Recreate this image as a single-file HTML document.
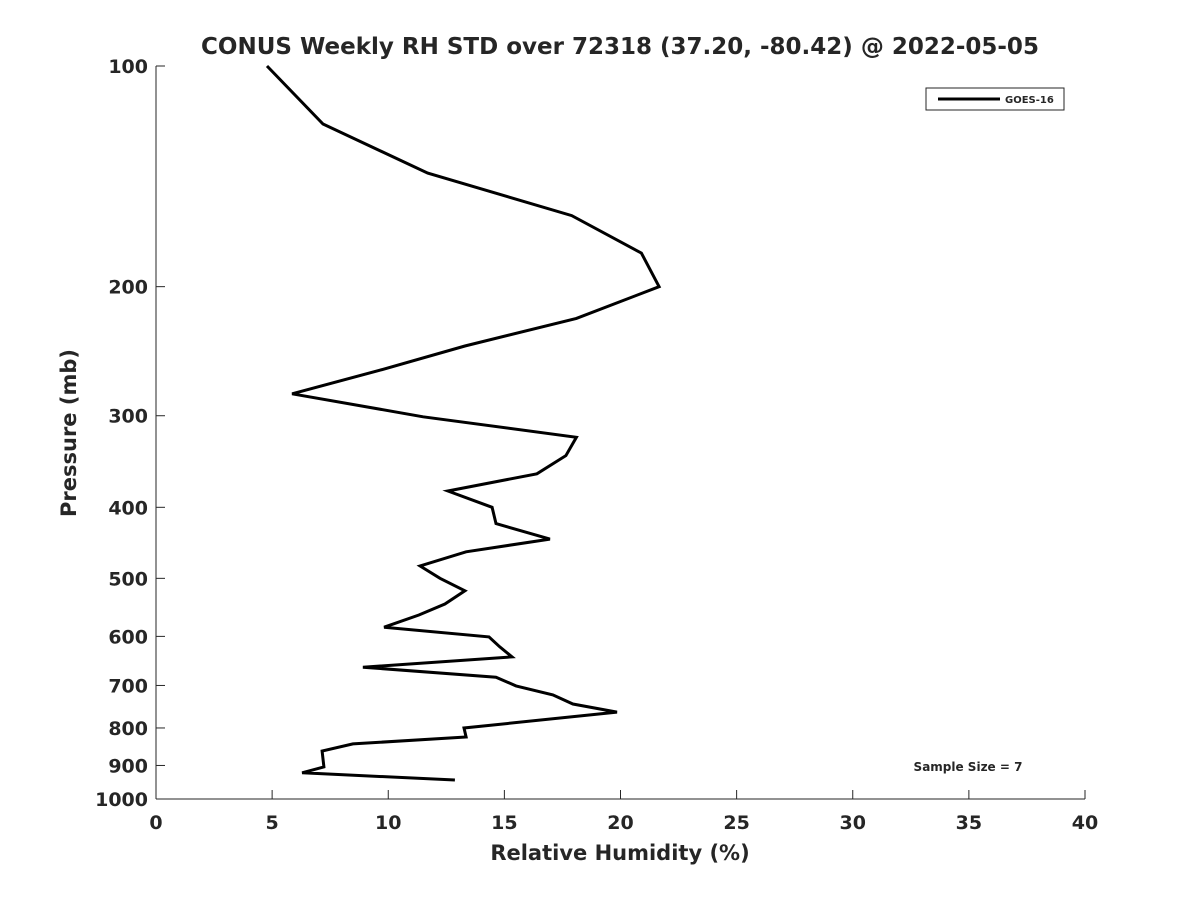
<!DOCTYPE html>
<html><head><meta charset="utf-8"><style>
body{margin:0;background:#fff}
svg text{font-family:"DejaVu Sans","Liberation Sans",sans-serif;font-weight:bold;fill:#262626}
</style></head><body>
<svg id="chart" width="1200" height="900" xmlns="http://www.w3.org/2000/svg">
<rect width="1200" height="900" fill="#fff"/>
<text x="620" y="54" font-size="23" text-anchor="middle" fill="#000">CONUS Weekly RH STD over 72318 (37.20, -80.42) @ 2022-05-05</text>
<g id="axes"></g>
<polyline id="series" fill="none" stroke="#000" stroke-width="3" stroke-linejoin="miter"/>
<g>
<rect x="926" y="88" width="138" height="22" fill="#fff" stroke="#262626" stroke-width="1"/>
<line x1="938" y1="99" x2="1000" y2="99" stroke="#000" stroke-width="3"/>
<text x="1005" y="103" font-size="10" fill="#000">GOES-16</text>
</g>
<text x="968" y="771" font-size="12" text-anchor="middle" fill="#000">Sample Size = 7</text>
<text x="620" y="860" font-size="21" text-anchor="middle">Relative Humidity (%)</text>
<text transform="translate(76,433) rotate(-90)" font-size="21" text-anchor="middle">Pressure (mb)</text>
</svg>
<script>
const rhValues=[4.78,7.19,11.7,17.9,20.9,21.66,18.1,13.3,9.64,5.86,11.5,18.1,17.65,16.4,12.57,14.47,14.64,16.96,13.35,11.37,12.23,13.3,12.44,11.32,9.82,14.34,14.8,15.33,8.91,14.64,15.5,17.09,17.95,19.85,13.26,13.35,8.48,7.15,7.23,6.29,12.87];
const pressures=[100,120,140,160,180,200,221,241,260,280,301,321,340,360,380,400,421,442,460,481,500,520,542,561,583,601,620,640,661,682,701,721,742,761,800,823,841,860,904,921,942];
const xTicks=[0,5,10,15,20,25,30,35,40];
const yTicks=[100,200,300,400,500,600,700,800,900,1000];
const X0=156,X1=1085,Y0=66,Y1=799;
const xs=v=>X0+(v-0)/(40-0)*(X1-X0);
const ys=p=>Y0+(Math.log10(p)-2)/(1)*(Y1-Y0);
const NS="http://www.w3.org/2000/svg";
const ax=document.getElementById('axes');
function mk(t,a){const e=document.createElementNS(NS,t);for(const k in a)e.setAttribute(k,a[k]);ax.appendChild(e);return e;}
let e=mk('line',{x1:X0,y1:Y1,x2:X1,y2:Y1,stroke:'#262626','stroke-width':1});


e=mk('line',{x1:X0,y1:Y0,x2:X0,y2:Y1,stroke:'#262626','stroke-width':1});


xTicks.forEach(v=>{
 const x=xs(v);
 let t=mk('line',{x1:x,y1:Y1,x2:x,y2:Y1-9,stroke:'#262626','stroke-width':1});
 
 
 let l=mk('text',{x:x,y:Y1+30,'font-size':19,'text-anchor':'middle'});l.textContent=v;
 
 
});
yTicks.forEach(v=>{
 const y=ys(v);
 let t=mk('line',{x1:X0,y1:y,x2:X0+9,y2:y,stroke:'#262626','stroke-width':1});
 
 
 let l=mk('text',{x:X0-8,y:y+7,'font-size':19,'text-anchor':'end'});l.textContent=v;
 
 
});
document.getElementById('series').setAttribute('points',rhValues.map((v,i)=>xs(v).toFixed(1)+','+ys(pressures[i]).toFixed(1)).join(' '));
</script>
</body></html>
